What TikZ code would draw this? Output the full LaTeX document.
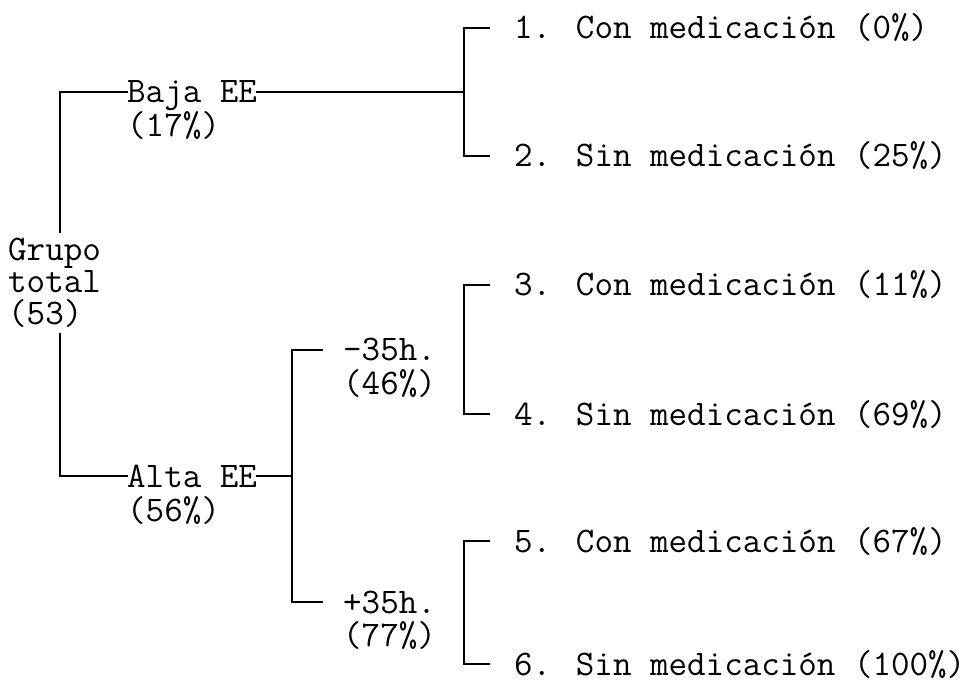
\documentclass[tikz,border=0pt]{standalone}
\usepackage{fontspec}
\usetikzlibrary{positioning}

\newcommand\treefont{\ttfamily\addfontfeatures{FakeBold=2}\fontsize{36}{32}\selectfont}
\tikzset{
  lbl/.style={font=\treefont, inner sep=0pt, anchor=west, text height=22pt, text depth=0pt},
  tree/.style={line width=1.8pt, line cap=rect}
}

\begin{document}
\begin{tikzpicture}[x=1pt, y=-1pt]
    \useasboundingbox (0,0) rectangle (977,684);
    \coordinate (root) at (60, 0);
    \coordinate (hs) at (292, 0);  \coordinate (ht) at (322, 0);
    \coordinate (sp) at (464, 0);  \coordinate (tk) at (489, 0);

    % final groups
    \node[lbl] (c1) at (514, 28)  {1. Con medicación (0\%)};
    \node[lbl] (c2) at (514, 156) {2. Sin medicación (25\%)};
    \node[lbl] (c3) at (514, 285) {3. Con medicación (11\%)};
    \node[lbl] (c4) at (514, 414) {4. Sin medicación (69\%)};
    \node[lbl] (c5) at (514, 541) {5. Con medicación (67\%)};
    \node[lbl] (c6) at (514, 664) {6. Sin medicación (100\%)};

    % hours
    \node[lbl] (lo) at (343, 350) {-35h.};
    \node[lbl] (lop) at (343, 384) {(46\%)};
    \node[lbl] (hi) at (343, 602) {+35h.};
    \node[lbl] (hip) at (343, 635) {(77\%)};

    % EE
    \node[lbl] (baja) at (127, 92) {Baja EE};
    \node[lbl] (bajap) at (127, 126) {(17\%)};
    \node[lbl] (alta) at (127, 476) {Alta EE};
    \node[lbl] (altap) at (127, 510) {(56\%)};

    \node[font=\treefont, inner xsep=0pt, inner ysep=6pt, align=left, anchor=west]
      (grupo) at (8, 283) {Grupo\\total\\(53)};

    \draw[tree] (root |- grupo.north) -- (root |- baja) -- (baja.west);
    \draw[tree] (root |- grupo.south) -- (root |- alta) -- (alta.west);

    \draw[tree] (baja.east) -- (baja.east -| sp);
    \draw[tree] (tk |- c1) -- (sp |- c1) -- (sp |- c2) -- (tk |- c2);

    \draw[tree] (alta.east) -- (alta.east -| hs);
    \draw[tree] (ht |- lo) -- (hs |- lo) -- (hs |- hi) -- (ht |- hi);
    \draw[tree] (tk |- c3) -- (sp |- c3) -- (sp |- c4) -- (tk |- c4);
    \draw[tree] (tk |- c5) -- (sp |- c5) -- (sp |- c6) -- (tk |- c6);
\end{tikzpicture}
\end{document}
